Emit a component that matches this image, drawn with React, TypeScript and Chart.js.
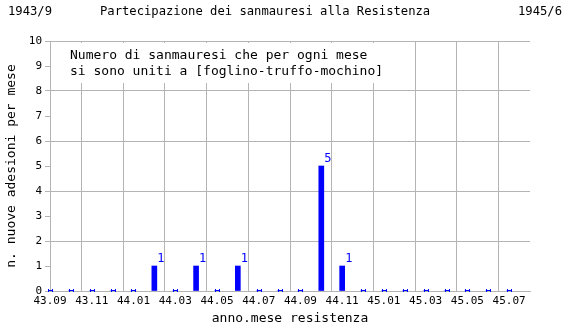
import React, { useEffect, useRef } from 'react';
import { Chart, registerables } from 'chart.js';

Chart.register(...registerables);

const months = [
  '43.09', '43.10', '43.11', '43.12', '44.01', '44.02', '44.03', '44.04',
  '44.05', '44.06', '44.07', '44.08', '44.09', '44.10', '44.11', '44.12',
  '45.01', '45.02', '45.03', '45.04', '45.05', '45.06', '45.07', '45.08',
];
const adesioni = [0, 0, 0, 0, 0, 1, 0, 1, 0, 1, 0, 0, 0, 5, 1, 0, 0, 0, 0, 0, 0, 0, 0];
const yMin = 0;
const yMax = 10;
const titleLeft = '1943/9';
const titleMain = 'Partecipazione dei sanmauresi alla Resistenza';
const titleRight = '1945/6';
const noteLines = [
  'Numero di sanmauresi che per ogni mese',
  'si sono uniti a [foglino-truffo-mochino]',
];
const yTitle = 'n. nuove adesioni per mese';
const xTitle = 'anno.mese resistenza';

const MONO = '"DejaVu Sans Mono", monospace';
const GRID = '#b4b4b4';
const BLUE = '#0000ff';

const decorPlugin = {
  id: 'decor',
  beforeDatasetsDraw(chart: any) {
    const { ctx, chartArea } = chart;
    ctx.save();
    ctx.fillStyle = '#ffffff';
    ctx.fillRect(chartArea.left + 2, chartArea.top + 2, 358, 40);
    ctx.fillStyle = '#000000';
    ctx.font = `13px ${MONO}`;
    ctx.textAlign = 'left';
    ctx.textBaseline = 'alphabetic';
    noteLines.forEach((line, i) => {
      ctx.fillText(line, chartArea.left + 20, chartArea.top + 18 + i * 16);
    });
    ctx.restore();
  },
  afterDatasetsDraw(chart: any) {
    const { ctx } = chart;
    const xs = chart.scales.x;
    const ys = chart.scales.y;
    ctx.save();
    // zero markers
    ctx.fillStyle = BLUE;
    adesioni.forEach((v, i) => {
      if (v !== 0) return;
      const px = Math.round(xs.getPixelForValue(i));
      const py = Math.round(ys.getPixelForValue(0));
      ctx.fillRect(px - 2, py - 1, 5, 1);
      ctx.fillRect(px - 2, py - 2, 1, 3);
      ctx.fillRect(px + 2, py - 2, 1, 3);
    });
    // value labels
    const meta = chart.getDatasetMeta(0);
    ctx.font = `12px ${MONO}`;
    ctx.textAlign = 'left';
    ctx.textBaseline = 'bottom';
    meta.data.forEach((el: any, i: number) => {
      const v = adesioni[i];
      if (!v) return;
      ctx.fillText(String(v), el.x + 3, el.y - 1);
    });
    ctx.restore();
  },
  afterDraw(chart: any) {
    const { ctx } = chart;
    ctx.save();
    ctx.fillStyle = '#000000';
    ctx.font = `12.2px ${MONO}`;
    ctx.textBaseline = 'middle';
    ctx.textAlign = 'left';
    ctx.fillText(titleLeft, 8, 12);
    ctx.fillText(titleMain, 100, 12);
    ctx.textAlign = 'right';
    ctx.fillText(titleRight, 562, 12);
    ctx.restore();
  },
};

export default function App() {
  const ref = useRef<HTMLCanvasElement | null>(null);

  useEffect(() => {
    document.body.style.margin = '0';
    const canvas = ref.current;
    if (!canvas) return;
    const chart = new Chart(canvas, {
      type: 'bar',
      data: {
        labels: months,
        datasets: [
          {
            data: adesioni,
            backgroundColor: BLUE,
            borderWidth: 0,
            barThickness: 5,
          },
        ],
      },
      options: {
        responsive: false,
        animation: false,
        devicePixelRatio: 1,
        layout: { padding: { top: 41, right: 40, left: 0, bottom: 0 } },
        plugins: {
          legend: { display: false },
          tooltip: { enabled: false },
          title: { display: false },
        },
        scales: {
          x: {
            type: 'category',
            offset: false,
            grid: {
              color: (c: any) => (c.index % 2 === 0 ? GRID : 'rgba(0,0,0,0)'),
              drawTicks: false,
              lineWidth: 1,
            },
            border: { display: true, color: GRID },
            ticks: {
              autoSkip: false,
              maxRotation: 0,
              minRotation: 0,
              padding: 4,
              color: '#000000',
              font: { family: MONO, size: 11 },
              callback: (_v: any, i: number) => (i % 2 === 0 && i < months.length - 1 ? months[i] : ''),
            },
            title: {
              display: true,
              text: xTitle,
              color: '#000000',
              font: { family: MONO, size: 13 },
              padding: { top: 0, bottom: 4 },
            },
            afterFit: (s: any) => {
              s.height = 39;
            },
          },
          y: {
            min: yMin,
            max: yMax,
            grid: {
              color: (c: any) => (c.tick && c.tick.value % 2 === 0 ? GRID : 'rgba(0,0,0,0)'),
              tickColor: GRID,
              tickLength: 5,
            },
            border: { display: true, color: GRID },
            ticks: {
              stepSize: 1,
              padding: 3,
              color: '#000000',
              font: { family: MONO, size: 11 },
            },
            title: {
              display: true,
              text: yTitle,
              color: '#000000',
              font: { family: MONO, size: 13 },
              padding: { top: 4, bottom: 0 },
            },
            afterFit: (s: any) => {
              s.width = 50;
            },
          },
        },
      } as any,
      plugins: [decorPlugin],
    });
    return () => chart.destroy();
  }, []);

  return <canvas ref={ref} width={570} height={330} style={{ display: 'block' }} />;
}
